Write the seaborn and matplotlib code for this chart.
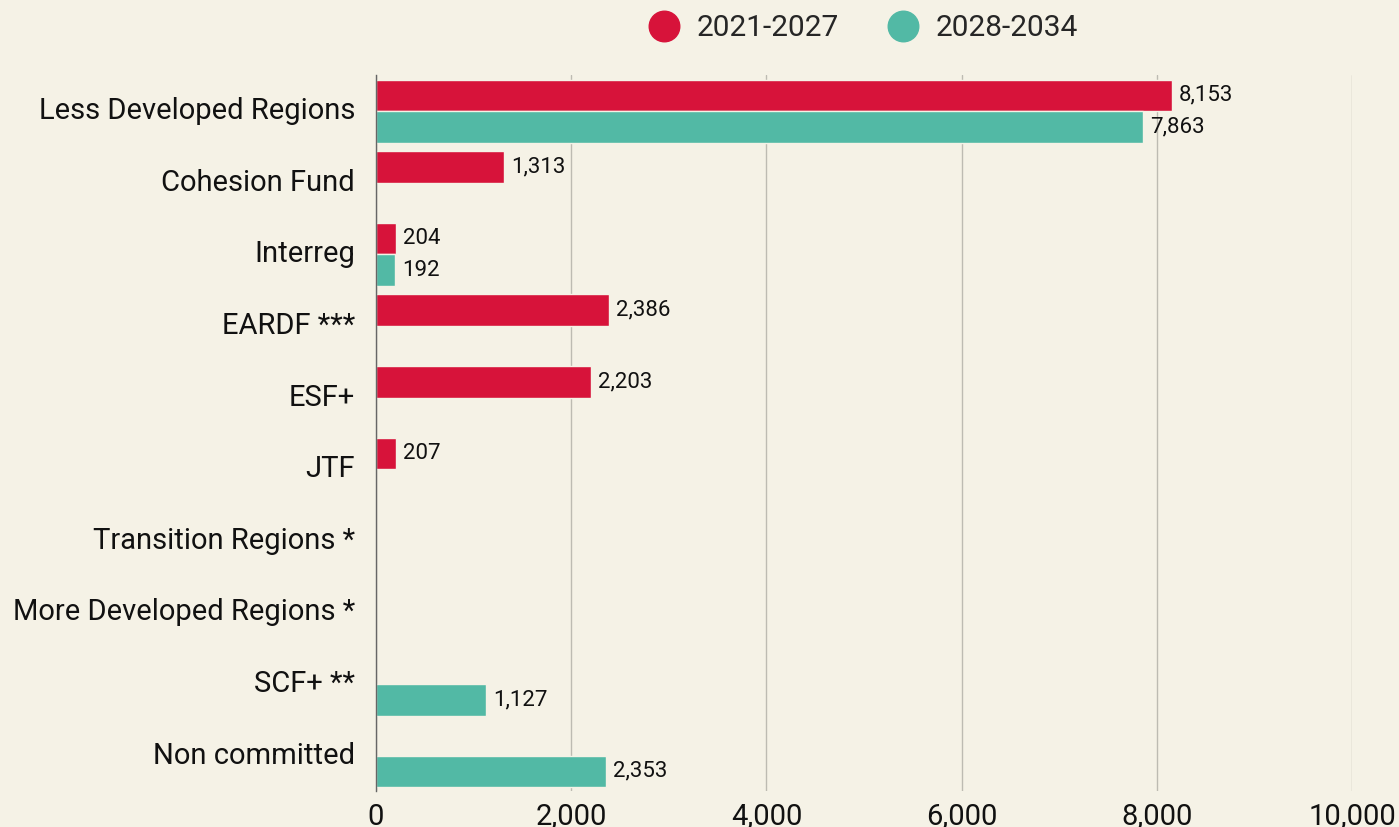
import numpy as np
import pandas as pd
import seaborn as sns
import matplotlib.pyplot as plt
from matplotlib.lines import Line2D

# data
categories = ['Less Developed Regions', 'Cohesion Fund', 'Interreg', 'EARDF ***', 'ESF+',
              'JTF', 'Transition Regions *', 'More Developed Regions *', 'SCF+ **', 'Non committed']
periods = ['2021-2027', '2028-2034']
values_2021 = [8153, 1313, 204, 2386, 2203, 207, np.nan, np.nan, np.nan, np.nan]
values_2028 = [7863, np.nan, 192, np.nan, np.nan, np.nan, np.nan, np.nan, 1127, 2353]
colors = ['#D7133A', '#52B9A5']
bg = '#F5F2E6'

df = pd.DataFrame({
    'category': categories * 2,
    'period': [periods[0]] * len(categories) + [periods[1]] * len(categories),
    'value': values_2021 + values_2028,
}).dropna()

sns.set_style('white')
plt.rcParams['font.family'] = ['Roboto', 'DejaVu Sans']

fig = plt.figure(figsize=(13.99, 8.27), dpi=100, facecolor=bg)
ax = fig.add_axes([0.2688, 0.043, 0.6976, 0.866])
ax.set_facecolor(bg)

sns.barplot(data=df, x='value', y='category', hue='period', order=categories,
            hue_order=periods, palette=colors, orient='h', width=0.88,
            edgecolor=bg, linewidth=1, saturation=1, ax=ax, legend=False)

for cont in ax.containers:
    ax.bar_label(cont, fmt='{:,.0f}', padding=5, fontsize=16, color='#111111')

ax.set_xlim(0, 10000)
ax.set_ylim(len(categories) - 0.5, -0.5)
ax.set_xticks(range(0, 10001, 2000))
ax.set_xticklabels([f'{t:,}' for t in range(0, 10001, 2000)], fontsize=21, color='#111111')
ax.tick_params(axis='x', length=0, pad=8)
ax.tick_params(axis='y', length=0, pad=15, labelsize=21, labelcolor='#111111')
for lbl in ax.get_yticklabels():
    lbl.set_verticalalignment('center')
ax.set_xlabel('')
ax.set_ylabel('')
ax.grid(axis='x', color='#BDBBB2', linewidth=1)
ax.set_axisbelow(True)
for s in ['top', 'right', 'bottom']:
    ax.spines[s].set_visible(False)
ax.spines['left'].set_color('#666666')
ax.spines['left'].set_linewidth(1)

handles = [Line2D([], [], marker='o', linestyle='', markersize=22, color=c) for c in colors]
fig.legend(handles, periods, loc='center', bbox_to_anchor=(0.612, 0.966), ncol=2,
           frameon=False, fontsize=21.5, handletextpad=0.1, columnspacing=1.15)

fig.savefig('out.png', dpi=100, facecolor=bg)
